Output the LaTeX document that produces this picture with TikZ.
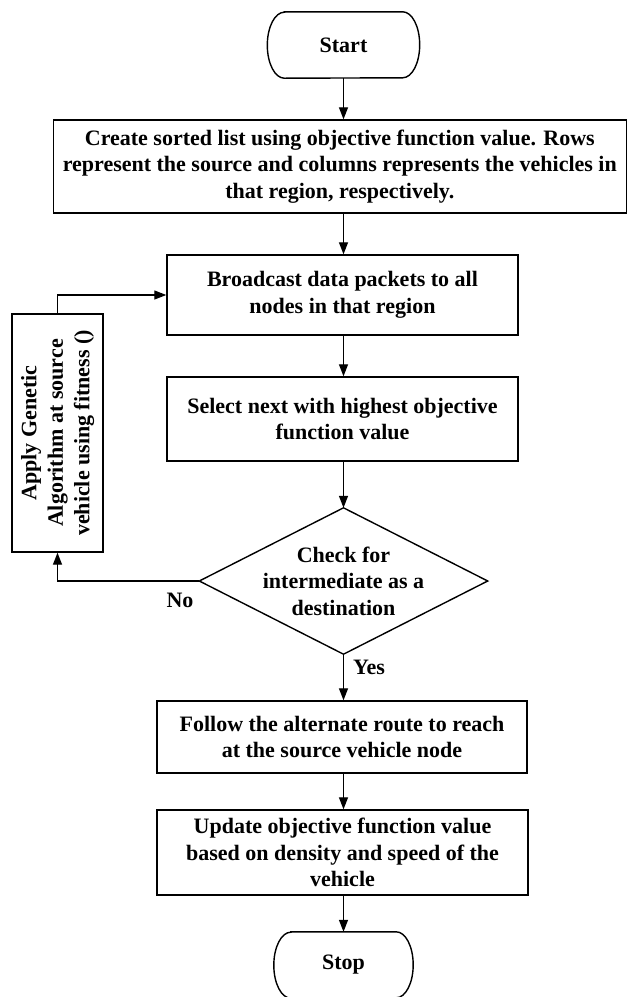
\documentclass[tikz,border=0pt]{standalone}
\usepackage{fontspec}
\setmainfont{Liberation Serif}
\usetikzlibrary{arrows.meta}
\tikzset{
  every node/.style={font=\fontsize{22pt}{26.5pt}\selectfont\bfseries, align=center, inner sep=2pt},
  procbox/.style={draw, line width=1.4pt},
  ghost/.style={draw=none},
  termline/.style={line width=1.4pt},
  arr/.style={line width=1.3pt, -{Triangle[length=12pt,width=9pt]}},
  lbl/.style={inner sep=0pt}
}
\begin{document}
\begin{tikzpicture}[x=1pt,y=1pt]
\fill[white] (0,0) rectangle (628,-997);
\useasboundingbox (0,0) rectangle (628,-997);

% Start terminal
\node[ghost, minimum width=152pt, minimum height=66pt] (start) at (343.5,-45) {Start};
\draw[termline] ([xshift=17pt]start.north west) -- ([xshift=-17pt]start.north east)
  arc[start angle=90, end angle=-90, x radius=17pt, y radius=33pt]
  -- ([xshift=17pt]start.south west)
  arc[start angle=270, end angle=90, x radius=17pt, y radius=33pt] -- cycle;

% Create
\node[procbox, minimum width=573pt, minimum height=93pt] (create) at (339.8,-166.5)
  {Create sorted list using objective function value. Rows\\
   represent the source and columns represents the vehicles in\\
   that region, respectively.};

% Broadcast
\node[procbox, minimum width=351pt, minimum height=80pt] (bcast) at (342.5,-295)
  {Broadcast data packets to all\\nodes in that region};

% Select
\node[procbox, minimum width=351pt, minimum height=84pt] (select) at (342.5,-419)
  {Select next with highest objective\\function value};

% Decision diamond
\node[ghost, minimum width=288pt, minimum height=146pt] (dec) at (343.5,-581)
  {Check for\\intermediate as a\\destination};
\draw[line width=1.4pt] (dec.north) -- (dec.east) -- (dec.south) -- (dec.west) -- cycle;

% Apply GA (rotated text)
\node[procbox, minimum width=91pt, minimum height=238pt] (apply) at (57.5,-433)
  {\rotatebox{90}{\begin{tabular}{@{}c@{}}Apply Genetic\\Algorithm at source\\vehicle using fitness ()\end{tabular}}};

% Follow
\node[procbox, minimum width=370pt, minimum height=72pt] (follow) at (342,-737)
  {Follow the alternate route to reach\\at the source vehicle node};

% Update
\node[procbox, minimum width=371pt, minimum height=85pt] (update) at (342.5,-852.5)
  {Update objective function value\\based on density and speed of the\\vehicle};

% Stop terminal
\node[ghost, minimum width=139pt, minimum height=66pt] (stop) at (343.5,-965) {Stop};
\draw[termline] ([xshift=17pt]stop.north west) -- ([xshift=-17pt]stop.north east)
  arc[start angle=90, end angle=-90, x radius=17pt, y radius=33pt]
  -- ([xshift=17pt]stop.south west)
  arc[start angle=270, end angle=90, x radius=17pt, y radius=33pt] -- cycle;

% Connectors (all on the common axis x = dec.north)
\draw[arr] (start.south) -- (dec.north |- create.north);
\draw[arr] (dec.north |- create.south) -- (dec.north |- bcast.north);
\draw[arr] (dec.north |- bcast.south) -- (dec.north |- select.north);
\draw[arr] (dec.north |- select.south) -- (dec.north);
\draw[arr] (dec.south) -- (dec.south |- follow.north);
\draw[arr] (dec.south |- follow.south) -- (dec.south |- update.north);
\draw[arr] (dec.south |- update.south) -- (stop.north);
\draw[arr] (apply.north) |- (bcast.west);
\draw[arr] (dec.west) -| (apply.south);

% Labels
\node[lbl] (nolbl) at (180,-600) {No};
\node[lbl] (yeslbl) at (369,-667) {Yes};
\end{tikzpicture}
\end{document}
